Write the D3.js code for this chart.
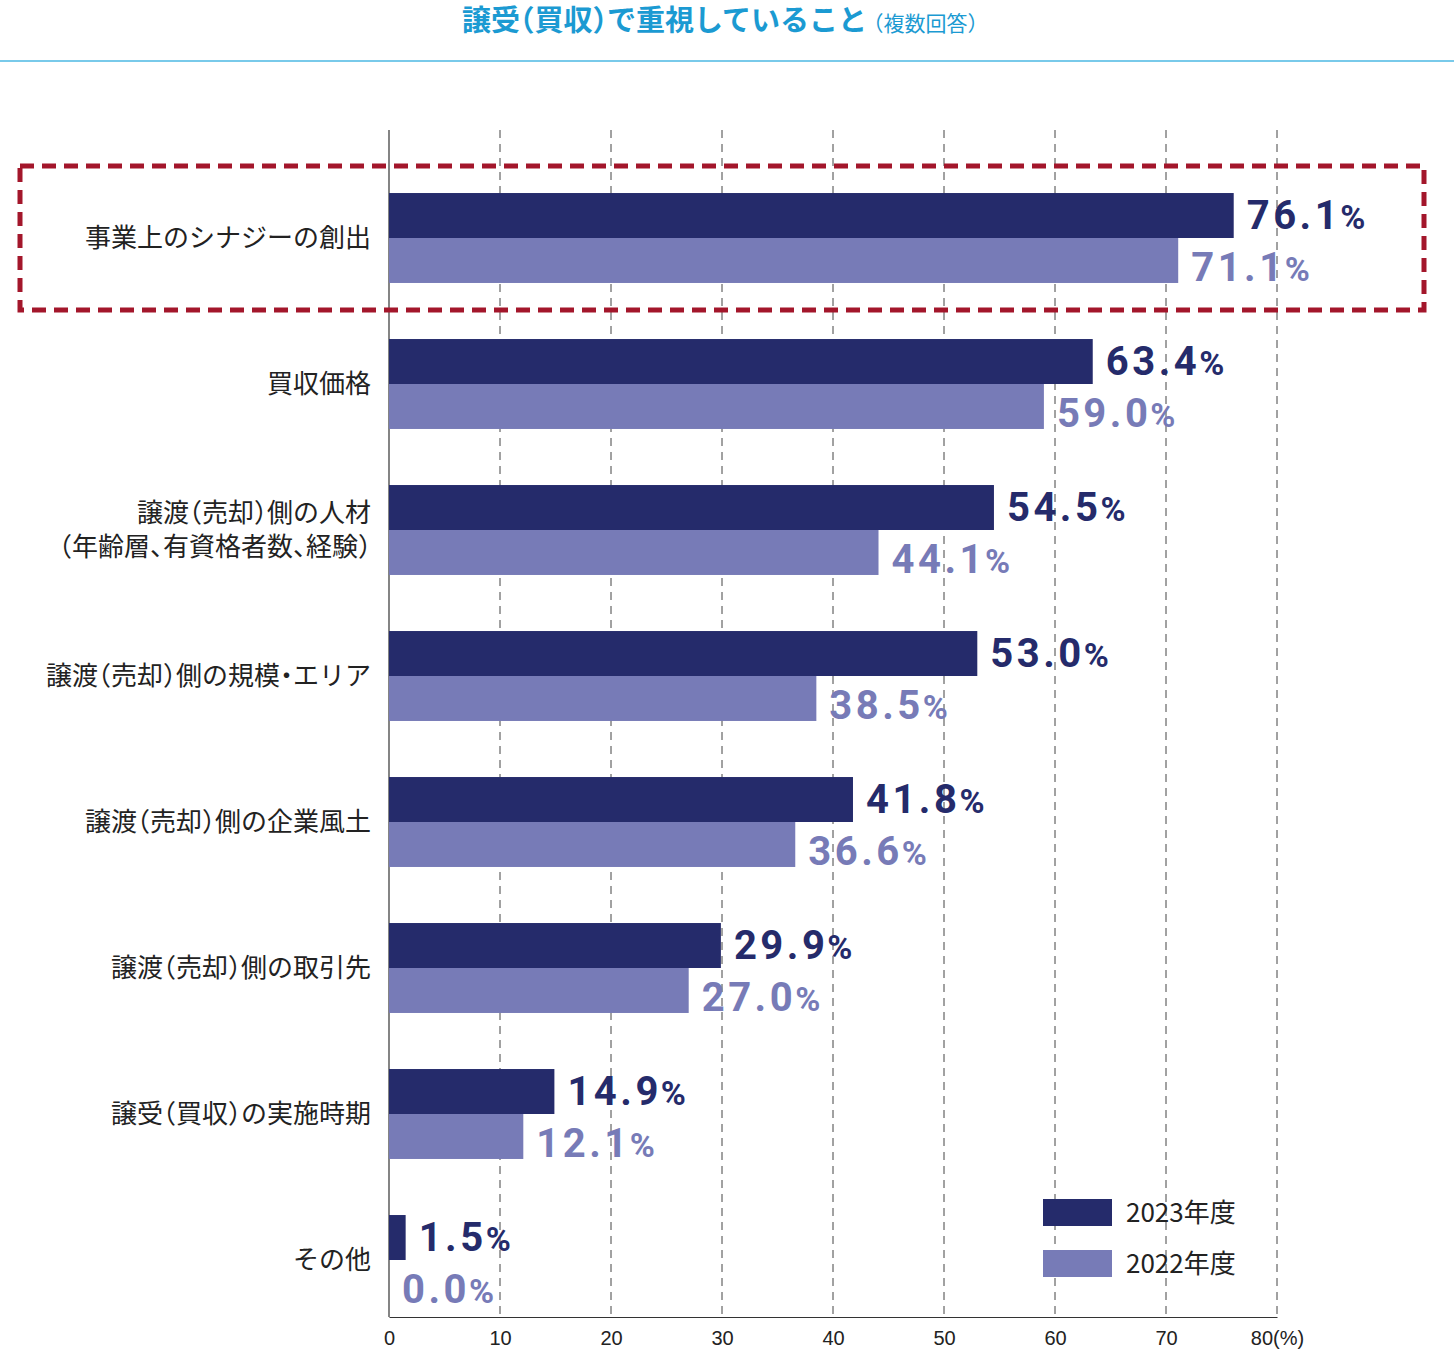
<!DOCTYPE html>
<html><head><meta charset="utf-8">
<script src="https://cdn.jsdelivr.net/npm/d3@7"></script>
<style>body{margin:0;background:#fff}svg{display:block}.h{font-feature-settings:"halt"}</style>
</head><body>
<svg id="c" width="1454" height="1350"></svg>
<script>
const categories = [
  ["事業上のシナジーの創出"],
  ["買収価格"],
  ["譲渡（売却）側の人材","（年齢層、有資格者数、経験）"],
  ["譲渡（売却）側の規模・エリア"],
  ["譲渡（売却）側の企業風土"],
  ["譲渡（売却）側の取引先"],
  ["譲受（買収）の実施時期"],
  ["その他"]
];
const seriesNames = ["2023年度","2022年度"];
const values2023 = [76.1, 63.4, 54.5, 53.0, 41.8, 29.9, 14.9, 1.5];
const values2022 = [71.1, 59.0, 44.1, 38.5, 36.6, 27.0, 12.1, 0.0];
const xTicks = [0,10,20,30,40,50,60,70,80];
const titleMain = "譲受（買収）で重視していること";
const titleSub = "（複数回答）";
const colors = ["#252b6b","#777bb7"];

const svg = d3.select("#c");
const x = d3.scaleLinear().domain([0,80]).range([389,1277]);
const keys = categories.map((c,i)=>"c"+i);
const y = d3.scaleBand().domain(keys).range([165,165+146*8]).paddingInner(0.384).paddingOuter(0.192);
const ys = d3.scaleBand().domain(seriesNames).range([0,y.bandwidth()]);
const plotTop = 130, plotBottom = 1317;

// helper: add text with half-width punctuation
const punct = /[（）・、]/;
function addSegs(t, str){
  let buf = "", isP = null;
  const flush = ()=>{ if(buf){ const s=t.append("tspan").text(buf); if(isP) s.attr("class","h"); buf=""; } };
  for(const ch of str){
    const p = punct.test(ch);
    if(isP!==null && p!==isP) flush();
    isP = p; buf += ch;
  }
  flush();
}

// title
const title = svg.append("text").attr("x",720).attr("y",31).attr("text-anchor","middle")
  .attr("font-family","'Noto Sans CJK JP'").attr("fill","#1b9ad2");
const tm = title.append("tspan").attr("font-size",29).attr("font-weight",700);
addSegs(tm, titleMain);
const ts = title.append("tspan").attr("font-size",21).attr("font-weight",400).attr("dx",6);
addSegs(ts, titleSub);
svg.append("line").attr("x1",0).attr("x2",1454).attr("y1",61).attr("y2",61).attr("stroke","#4db8e3").attr("stroke-width",1.5);

// grid
svg.append("g").selectAll("line").data(xTicks.filter(d=>d>0)).join("line")
  .attr("x1",d=>x(d)).attr("x2",d=>x(d)).attr("y1",plotTop).attr("y2",plotBottom)
  .attr("stroke","#444").attr("stroke-width",1).attr("stroke-dasharray","8,6");

// axis
const ax = d3.axisBottom(x).tickValues(xTicks).tickSize(0).tickFormat(d=>d===80?"80(%)":d);
const axg = svg.append("g").attr("transform",`translate(0,${plotBottom})`).call(ax);
axg.select(".domain").attr("stroke","#333").attr("stroke-width",1.2);
axg.selectAll("text").attr("font-family","'Liberation Sans', Arial").attr("font-size",20).attr("fill","#222").attr("dy","1.25em");
svg.append("line").attr("x1",x(0)).attr("x2",x(0)).attr("y1",plotTop).attr("y2",plotBottom).attr("stroke","#333").attr("stroke-width",1.2);

// bars
const rows = categories.map((c,i)=>({key:keys[i], label:c, v:[values2023[i],values2022[i]]}));
const g = svg.append("g");
rows.forEach(r=>{
  seriesNames.forEach((s,j)=>{
    const top = y(r.key)+ys(s);
    g.append("rect").attr("x",x(0)).attr("y",top).attr("width",x(r.v[j])-x(0)).attr("height",ys.bandwidth()).attr("fill",colors[j]);
    const t = g.append("text").attr("x",x(r.v[j])+13).attr("y",top+(j===0?36:43))
      .attr("font-family","Roboto").attr("font-weight",700).attr("fill",colors[j]).attr("letter-spacing",3.5);
    t.append("tspan").attr("font-size",40).text(r.v[j].toFixed(1));
    t.append("tspan").attr("font-size",34).attr("letter-spacing",0).attr("dx",-1).text("%");
  });
  const cy = y(r.key)+y.bandwidth()/2;
  const n = r.label.length;
  r.label.forEach((l,k)=>{
    const t = g.append("text").attr("x",371).attr("y",cy+(k-(n-1)/2)*34).attr("dy","0.33em").attr("text-anchor","end")
      .attr("font-family","'Noto Sans CJK JP'").attr("font-size",26).attr("fill","#222");
    addSegs(t, l);
  });
});

// highlight box
svg.append("rect").attr("x",20).attr("y",166).attr("width",1404).attr("height",144)
  .attr("fill","none").attr("stroke","#a3162b").attr("stroke-width",5).attr("stroke-dasharray","14,8");

// legend
seriesNames.forEach((s,j)=>{
  const ly = 1199 + j*51;
  svg.append("rect").attr("x",1043).attr("y",ly).attr("width",69).attr("height",27).attr("fill",colors[j]);
  svg.append("text").attr("x",1126).attr("y",ly+13.5).attr("dy","0.35em").attr("font-family","'Noto Sans CJK JP'").attr("font-size",26).attr("fill","#222").text(s);
});
</script>
</body></html>
